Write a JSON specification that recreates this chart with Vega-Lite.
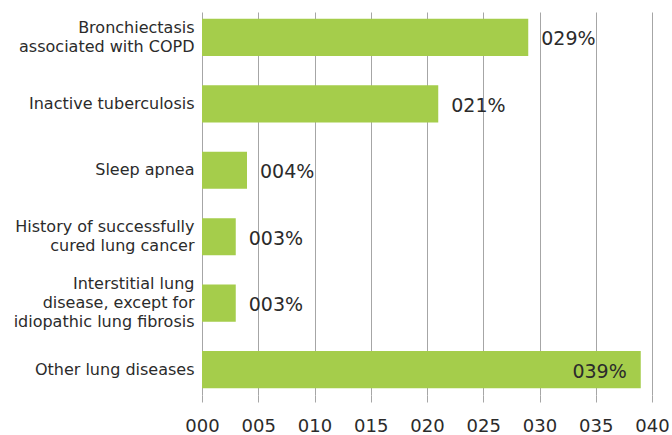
{
  "$schema": "https://vega.github.io/schema/vega-lite/v6.json",
  "autosize": {"type": "none"},
  "width": 450,
  "height": 383,
  "padding": {"left": 202, "top": 12, "right": 20, "bottom": 40},
  "background": "white",
  "config": {
    "view": {"stroke": null},
    "font": "DejaVu Sans"
  },
  "data": {
    "values": [
      {"cat": "Bronchiectasis|associated with COPD", "value": 29, "label": "029%", "inside": false},
      {"cat": "Inactive tuberculosis", "value": 21, "label": "021%", "inside": false},
      {"cat": "Sleep apnea", "value": 4, "label": "004%", "inside": false},
      {"cat": "History of successfully|cured lung cancer", "value": 3, "label": "003%", "inside": false},
      {"cat": "Interstitial lung|disease, except for|idiopathic lung fibrosis", "value": 3, "label": "003%", "inside": false},
      {"cat": "Other lung diseases", "value": 39, "label": "039%", "inside": true}
    ]
  },
  "encoding": {
    "y": {
      "field": "cat",
      "type": "nominal",
      "sort": null,
      "scale": {"paddingInner": 0.44, "paddingOuter": 0.1},
      "axis": {
        "title": null,
        "domain": false,
        "ticks": false,
        "labelExpr": "split(datum.label, '|')",
        "labelFontSize": 16,
        "labelColor": "#2b2b2b",
        "labelPadding": 8,
        "labelLineHeight": 19,
        "labelLimit": 250,
        "labelOffset": {
          "condition": [
            {"test": "indexof(datum.value, 'Interstitial') >= 0", "value": -19},
            {"test": "indexof(datum.value, '|') >= 0", "value": -9.5}
          ],
          "value": 0
        }
      }
    },
    "x": {
      "field": "value",
      "type": "quantitative",
      "scale": {"domain": [0, 40], "nice": false},
      "axis": {
        "title": null,
        "values": [0, 5, 10, 15, 20, 25, 30, 35, 40],
        "format": "03d",
        "domain": false,
        "grid": true,
        "gridColor": "#a6a6a6",
        "gridWidth": 1,
        "ticks": true,
        "tickSize": 7,
        "tickColor": "#a6a6a6",
        "labelFlush": false,
        "labelOverlap": false,
        "labelFontSize": 18,
        "labelColor": "#2b2b2b",
        "labelPadding": 15
      }
    }
  },
  "layer": [
    {"mark": {"type": "bar", "color": "#a5cd4b"}},
    {
      "transform": [{"filter": "!datum.inside"}],
      "mark": {"type": "text", "align": "left", "dx": 13, "dy": 2, "fontSize": 19, "color": "#2b2b2b"},
      "encoding": {"text": {"field": "label"}}
    },
    {
      "transform": [{"filter": "datum.inside"}],
      "mark": {"type": "text", "align": "right", "dx": -14, "dy": 2, "fontSize": 19, "color": "#2b2b2b"},
      "encoding": {"text": {"field": "label"}}
    }
  ]
}
